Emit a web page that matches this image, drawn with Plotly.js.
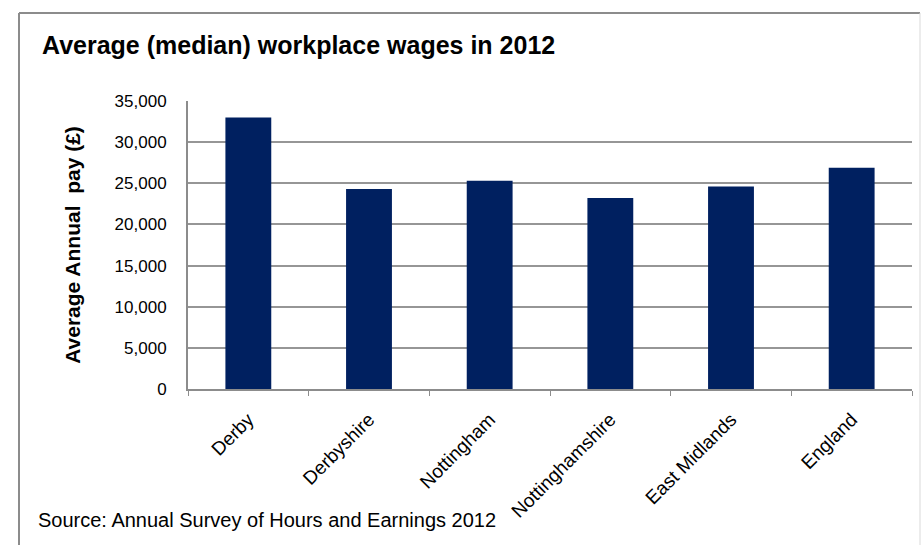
<!DOCTYPE html>
<html>
<head>
<meta charset="utf-8">
<script src="https://cdn.plot.ly/plotly-3.0.1.min.js"></script>
<style>html,body{margin:0;padding:0;background:#fff;}#chart{width:924px;height:545px;}</style>
</head>
<body>
<div id="chart"></div>
<script>
const categories = ["Derby", "Derbyshire", "Nottingham", "Nottinghamshire", "East Midlands", "England"];
const pay = [33000, 24300, 25300, 23200, 24600, 26900];
const yTickVals = [0, 5000, 10000, 15000, 20000, 25000, 30000, 35000];
const yTickText = ["0", "5,000", "10,000", "15,000", "20,000", "25,000", "30,000", "35,000"];
const titleText = "Average (median) workplace wages in 2012";
const yTitleText = "Average Annual  pay (£)";
const sourceText = "Source: Annual Survey of Hours and Earnings 2012";

const font = "Liberation Sans, Arial, sans-serif";
const trace = {
  type: "bar",
  x: categories,
  y: pay,
  marker: {color: "#002060", line: {width: 0}},
  hoverinfo: "x+y"
};
const layout = {
  width: 924, height: 545,
  margin: {l: 188, r: 12, t: 101, b: 156},
  paper_bgcolor: "#fff", plot_bgcolor: "#fff",
  bargap: 0.62,
  showlegend: false,
  font: {family: font, color: "#000"},
  title: {
    text: "<b>" + titleText + "</b>",
    font: {family: font, size: 25, color: "#000"},
    xref: "container", yref: "container",
    x: 42/924, xanchor: "left",
    y: 1 - 45/545, yanchor: "middle"
  },
  xaxis: {
    type: "category",
    showgrid: false,
    showline: true, linecolor: "#8c8c8c", linewidth: 2,
    ticks: "outside", ticklen: 5, tickcolor: "#8c8c8c", tickwidth: 1,
    tickson: "boundaries",
    tickangle: -45,
    ticklabelstandoff: 10,
    tickfont: {family: font, size: 19, color: "#000"},
    fixedrange: true
  },
  yaxis: {
    range: [0, 35000],
    tickvals: yTickVals, ticktext: yTickText,
    showgrid: true, gridcolor: "#969696", gridwidth: 2,
    showline: true, linecolor: "#8c8c8c", linewidth: 2,
    zeroline: false,
    ticks: "", ticklabelstandoff: 16,
    tickfont: {family: font, size: 17, color: "#000"},
    title: {text: "<b>" + yTitleText + "</b>", font: {family: font, size: 21, color: "#000"}, standoff: 28},
    fixedrange: true
  },
  shapes: [
    {type: "line", xref: "paper", yref: "paper", x0: (19-188)/724, x1: (19-188)/724, y0: (389-13)/288, y1: (389-560)/288, line: {color: "#8c8c8c", width: 2}},
    {type: "line", xref: "paper", yref: "paper", x0: (19-188)/724, x1: (920-188)/724, y0: (389-13)/288, y1: (389-13)/288, line: {color: "#8c8c8c", width: 2}},
    {type: "line", xref: "paper", yref: "paper", x0: (920-188)/724, x1: (920-188)/724, y0: (389-13)/288, y1: (389-560)/288, line: {color: "#d9d9d9", width: 1}}
  ],
  annotations: [
    {text: sourceText, xref: "paper", yref: "paper", x: (36-188)/724, xanchor: "left", y: (389-520)/288, yanchor: "middle", showarrow: false, font: {family: font, size: 20, color: "#000"}}
  ]
};
Plotly.newPlot("chart", [trace], layout, {displayModeBar: false, staticPlot: true});
</script>
</body>
</html>
